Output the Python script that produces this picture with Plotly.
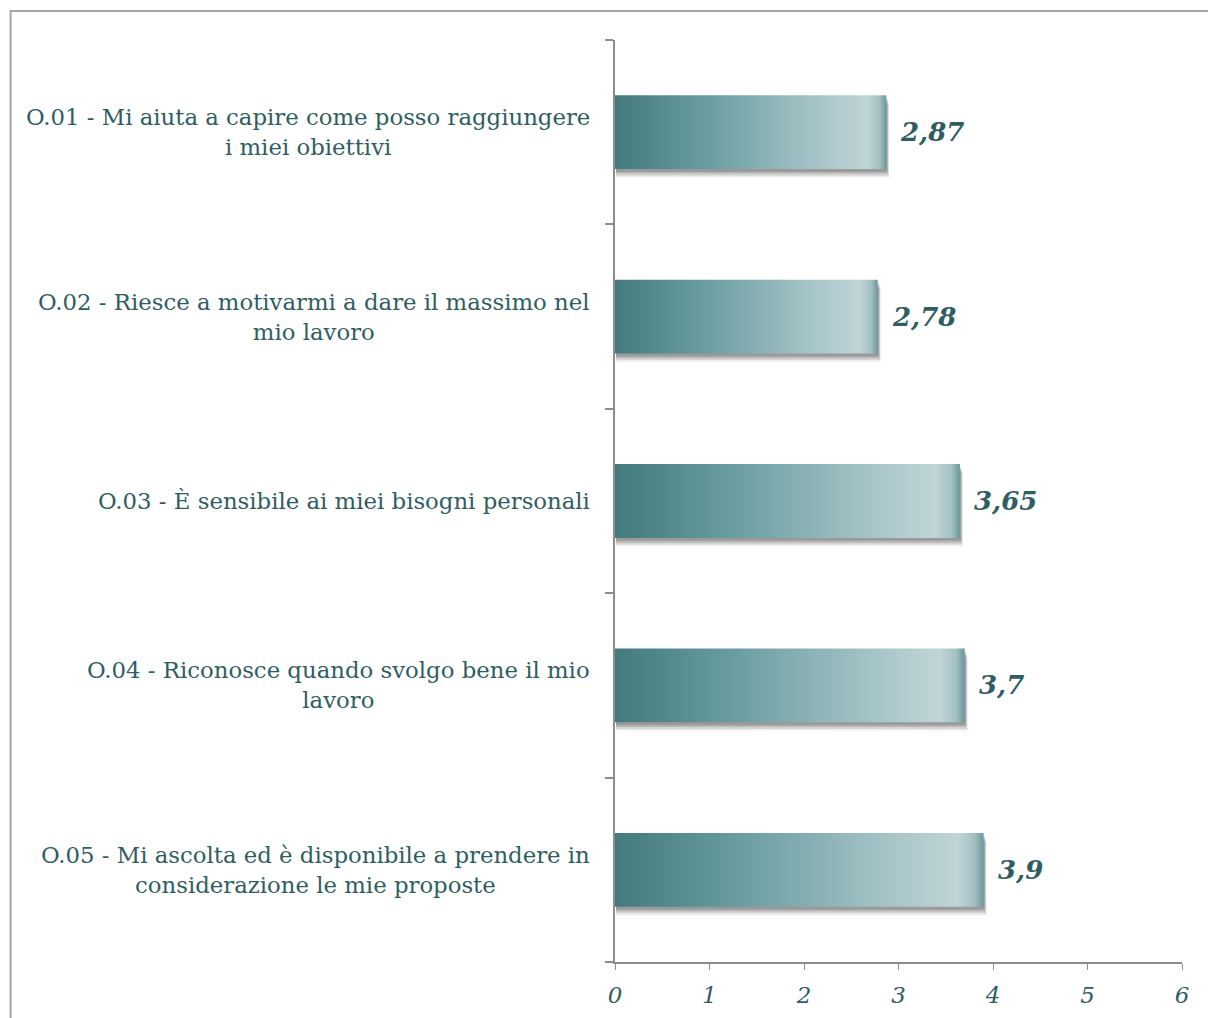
import plotly.graph_objects as go

# Survey items and mean scores
categories = [
    "O.01 - Mi aiuta a capire come posso raggiungere<br>i miei obiettivi",
    "O.02 - Riesce a motivarmi a dare il massimo nel<br>mio lavoro",
    "O.03 - È sensibile ai miei bisogni personali",
    "O.04 - Riconosce quando svolgo bene il mio<br>lavoro",
    "O.05 - Mi ascolta ed è disponibile a prendere in<br>considerazione le mie proposte",
]
scores = [2.87, 2.78, 3.65, 3.7, 3.9]
x_ticks = [0, 1, 2, 3, 4, 5, 6]

TEXT = "#2f5e62"
AXIS = "#8c8c8c"
FONT = "DejaVu Serif"
HALF = 0.2  # half bar thickness in category units

fig = go.Figure()

for i, v in enumerate(scores):
    # soft drop shadow (a few translucent layers)
    for k, a in [(0.046, 0.07), (0.036, 0.10), (0.026, 0.13), (0.016, 0.16)]:
        fig.add_trace(go.Scatter(
            x=[0.01, v + k * 0.7, v + k * 0.7, 0.01, 0.01],
            y=[i - HALF + k, i - HALF + k, i + HALF + k, i + HALF + k, i - HALF + k],
            fill="toself", mode="lines", line=dict(width=0),
            fillcolor=f"rgba(0,0,0,{a})", hoverinfo="skip", showlegend=False,
        ))
    # gradient bar
    fig.add_trace(go.Scatter(
        x=[0, v, v, 0, 0],
        y=[i - HALF, i - HALF, i + HALF, i + HALF, i - HALF],
        fill="toself", mode="lines", line=dict(width=0),
        fillgradient=dict(
            type="horizontal",
            colorscale=[[0, "#437a7d"], [0.35, "#6a9ea2"], [0.7, "#a0c0c3"],
                        [0.93, "#c0d5d8"], [0.975, "#a4c0c3"], [1, "#6a989c"]],
        ),
        hoverinfo="skip", showlegend=False,
    ))

annotations = []
for i, (c, v) in enumerate(zip(categories, scores)):
    annotations.append(dict(
        x=-0.041, xref="paper", y=i, yref="y", text=c, showarrow=False,
        xanchor="right", yanchor="middle", align="center",
        font=dict(family=FONT, size=22.8, color=TEXT),
    ))
    annotations.append(dict(
        x=v, xref="x", y=i, yref="y", text=f"{v:g}".replace(".", ","),
        showarrow=False, xanchor="left", yanchor="middle", xshift=12,
        font=dict(family=FONT, size=26, color=TEXT, weight="bold", style="italic"),
    ))

fig.update_layout(
    width=1208, height=1018,
    margin=dict(l=615, r=26, t=40, b=56),
    paper_bgcolor="white", plot_bgcolor="white",
    annotations=annotations,
    shapes=[dict(
        type="rect", xref="paper", yref="paper",
        x0=-1.066, x1=1.2, y0=-0.2, y1=1.0315,
        line=dict(color="#a6a6a6", width=2), fillcolor="rgba(0,0,0,0)",
    )],
    xaxis=dict(
        range=[0, 6], tickvals=x_ticks, ticktext=[str(t) for t in x_ticks],
        showgrid=False, zeroline=False, showline=True, linecolor=AXIS, linewidth=2,
        ticks="outside", ticklen=6, tickcolor=AXIS, tickwidth=1,
        ticklabelstandoff=5, automargin=False,
        tickfont=dict(family=FONT, size=23, color=TEXT, style="italic"),
    ),
    yaxis=dict(
        range=[4.5, -0.5], showgrid=False, zeroline=False,
        showline=True, linecolor=AXIS, linewidth=2, automargin=False,
        tickvals=[0, 1, 2, 3, 4], showticklabels=False, ticks="",
        minor=dict(tickvals=[-0.5, 0.5, 1.5, 2.5, 3.5, 4.5], ticks="outside",
                   ticklen=8, tickcolor=AXIS, tickwidth=2, showgrid=False),
    ),
)

fig.write_html("out.html")
